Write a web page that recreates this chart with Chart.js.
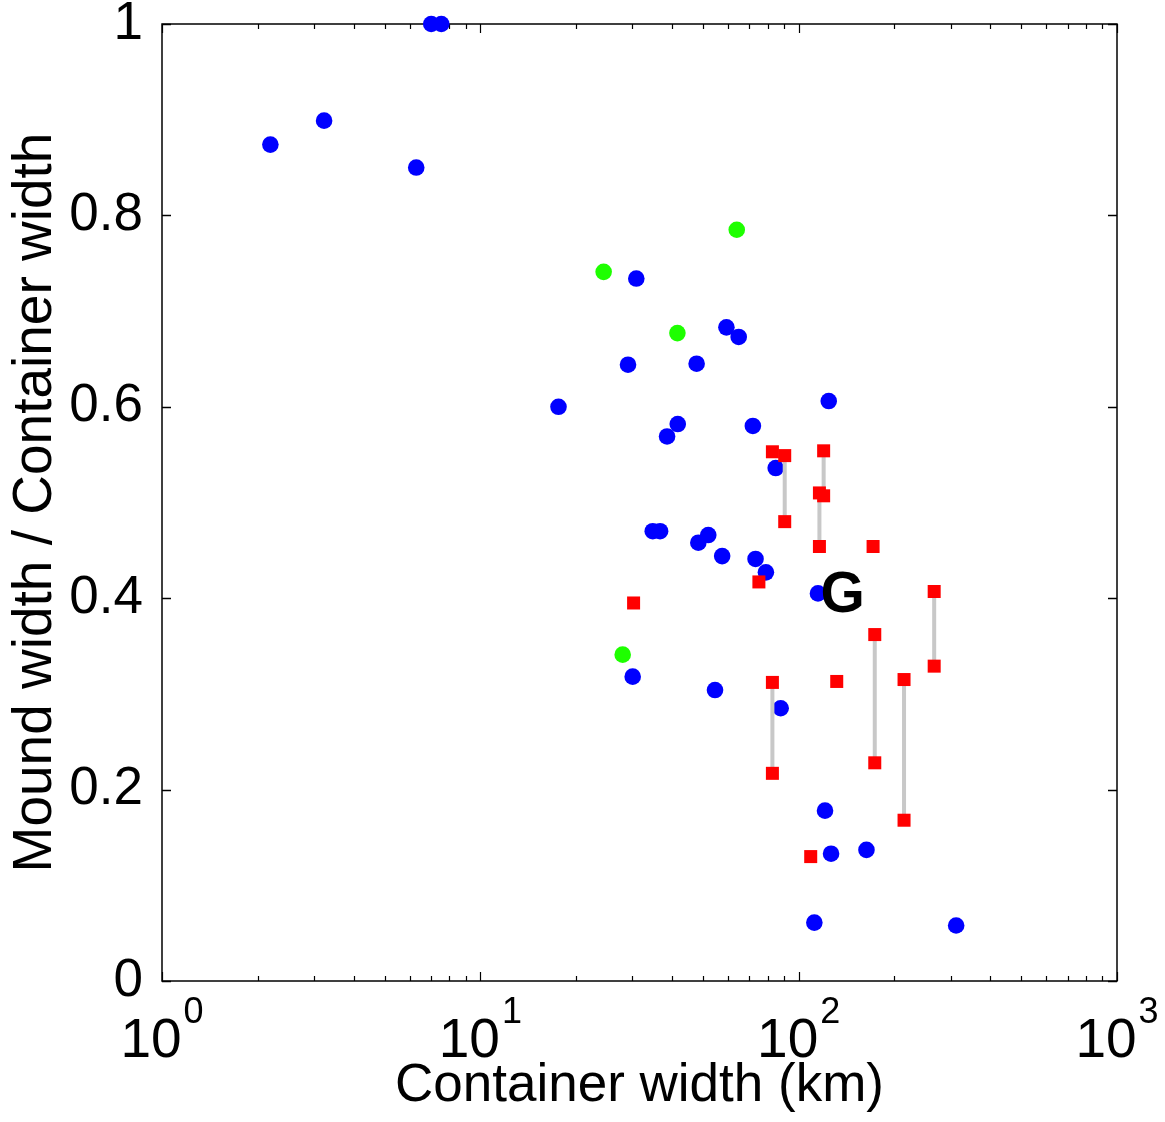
<!DOCTYPE html>
<html><head><meta charset="utf-8">
<script src="https://cdn.jsdelivr.net/npm/chart.js@4/dist/chart.umd.min.js"></script>
<style>html,body{margin:0;padding:0;background:#fff;}#wrap{width:1165px;height:1122px;}</style>
</head><body><div id="wrap"><canvas id="c" width="1165" height="1122"></canvas></div>
<script>
// ---- data ----
const blueX = [2.19, 3.23, 6.29, 7.01, 7.54, 30.9, 59.3, 64.8, 29.1, 47.8, 17.6, 41.7, 38.6, 71.8, 124.3, 84.7,
               34.8, 36.7, 52.0, 48.4, 57.5, 73.2, 78.9, 115.0, 30.1, 54.6, 87.8, 121.0, 126.4, 163.3, 112.0, 312.4];
const blueY = [0.874, 0.899, 0.850, 1.0, 1.0, 0.734, 0.683, 0.673, 0.644, 0.645, 0.600, 0.582, 0.569, 0.580, 0.606, 0.536,
               0.470, 0.470, 0.466, 0.458, 0.444, 0.441, 0.427, 0.405, 0.318, 0.304, 0.285, 0.178, 0.133, 0.137, 0.061, 0.058];
const greenX = [63.9, 24.4, 41.6, 28.0];
const greenY = [0.785, 0.741, 0.677, 0.341];
const redX = [82.7, 75.0, 30.3, 131.7, 171.3, 109.1];
const redY = [0.553, 0.417, 0.395, 0.313, 0.454, 0.130];
const linkX = [90.4, 119.8, 116.2, 82.7, 173.4, 214.3, 266.5];
const linkTop = [0.549, 0.554, 0.510, 0.312, 0.362, 0.315, 0.407];
const linkBottom = [0.480, 0.507, 0.454, 0.217, 0.228, 0.168, 0.329];
const yTickValues = [0, 0.2, 0.4, 0.6, 0.8, 1];
const xDecades = [1, 10, 100, 1000];
const xExponents = ['0', '1', '2', '3'];
const xTitle = 'Container width (km)';
const yTitle = 'Mound width / Container width';
const noteText = 'G';
const noteX = 137.5;
const noteY = 0.4025;

const FONT = '"Liberation Sans", Arial, Helvetica, sans-serif';
const toPts = (xs, ys) => xs.map((v, i) => ({x: v, y: ys[i]}));

const linkDatasets = linkX.map((v, i) => ({
  data: [{x: v, y: linkTop[i]}, {x: v, y: linkBottom[i]}],
  showLine: true, borderColor: '#c8c8c8', borderWidth: 4, pointRadius: 0, order: 1, clip: false
}));
const redPts = toPts(redX, redY)
  .concat(toPts(linkX, linkTop))
  .concat(toPts(linkX, linkBottom));

const framePlugin = {
  id: 'frame',
  beforeDatasetsDraw(chart) {
    const {ctx, chartArea: a, scales: {x, y}} = chart;
    ctx.save();
    ctx.strokeStyle = '#000';
    ctx.lineWidth = 1.5;
    ctx.strokeRect(a.left, a.top, a.right - a.left, a.bottom - a.top);
    const seg = (x1, y1, x2, y2) => { ctx.beginPath(); ctx.moveTo(x1, y1); ctx.lineTo(x2, y2); ctx.stroke(); };
    yTickValues.forEach(v => {
      const py = Math.round(y.getPixelForValue(v)) + 0.5;
      seg(a.left, py, a.left + 9, py);
      seg(a.right, py, a.right - 9, py);
    });
    ctx.lineWidth = 1.2;
    xDecades.forEach((d) => {
      for (let m = 1; m <= 9; m++) {
        const v = d * m;
        if (v > 1000) break;
        const px = Math.round(x.getPixelForValue(v)) + 0.5;
        const len = m === 1 ? 9 : 5;
        seg(px, a.bottom, px, a.bottom - len);
        seg(px, a.top, px, a.top + len);
      }
    });
    ctx.restore();
  },
  afterDatasetsDraw(chart) {
    const {ctx, scales: {x, y}} = chart;
    ctx.save();
    ctx.fillStyle = '#000';
    ctx.font = 'bold 57px ' + FONT;
    ctx.textAlign = 'center';
    ctx.textBaseline = 'middle';
    ctx.fillText(noteText, x.getPixelForValue(noteX), y.getPixelForValue(noteY));
    ctx.restore();
  },
  afterDraw(chart) {
    const {ctx, scales: {x}} = chart;
    ctx.save();
    ctx.fillStyle = '#000';
    ctx.textAlign = 'left';
    ctx.textBaseline = 'alphabetic';
    xDecades.forEach((d, k) => {
      const px = x.getPixelForValue(d);
      ctx.font = '55px ' + FONT;
      const w1 = ctx.measureText('10').width;
      ctx.font = '36px ' + FONT;
      const w2 = ctx.measureText(xExponents[k]).width;
      const start = px - (w1 + w2 + 2) / 2;
      ctx.font = '55px ' + FONT;
      ctx.fillText('10', start, 1057);
      ctx.font = '36px ' + FONT;
      ctx.fillText(xExponents[k], start + w1 + 2, 1023);
    });
    ctx.restore();
  }
};

new Chart(document.getElementById('c'), {
  type: 'scatter',
  data: {
    datasets: [
      {data: redPts, pointStyle: 'rect', pointRadius: 9.2, pointHoverRadius: 9.2, pointBorderWidth: 0,
       backgroundColor: '#ff0000', borderColor: '#ff0000', order: 0, clip: false},
      ...linkDatasets,
      {data: toPts(greenX, greenY), pointRadius: 8.3, pointHoverRadius: 8.3, pointBorderWidth: 0,
       backgroundColor: '#1eff00', borderColor: '#1eff00', order: 2, clip: false},
      {data: toPts(blueX, blueY), pointRadius: 8.3, pointHoverRadius: 8.3, pointBorderWidth: 0,
       backgroundColor: '#0000ff', borderColor: '#0000ff', order: 3, clip: false}
    ]
  },
  options: {
    responsive: false,
    devicePixelRatio: 1,
    animation: false,
    layout: {padding: {top: 24, right: 48, bottom: 0, left: 0}},
    plugins: {legend: {display: false}, tooltip: {enabled: false}},
    scales: {
      x: {
        type: 'logarithmic', min: 1, max: 1000,
        grid: {display: false}, border: {display: false},
        ticks: {display: false},
        title: {display: true, text: xTitle, color: '#000', font: {family: FONT, size: 53, lineHeight: 1.2},
                padding: {top: 0, bottom: 4}},
        afterFit(s) { s.height = 141; s.paddingLeft = 0; s.paddingRight = 0; }
      },
      y: {
        min: 0, max: 1,
        grid: {display: false}, border: {display: false},
        ticks: {stepSize: 0.2, color: '#000', padding: 11, font: {family: FONT, size: 53},
                callback: v => String(Math.round(v * 10) / 10)},
        title: {display: true, text: yTitle, color: '#000', font: {family: FONT, size: 55, lineHeight: 1.2},
                padding: {top: 3, bottom: 3}},
        afterFit(s) { s.width = 162; s.paddingTop = 0; s.paddingBottom = 0; }
      }
    }
  },
  plugins: [framePlugin]
});
</script></body></html>
